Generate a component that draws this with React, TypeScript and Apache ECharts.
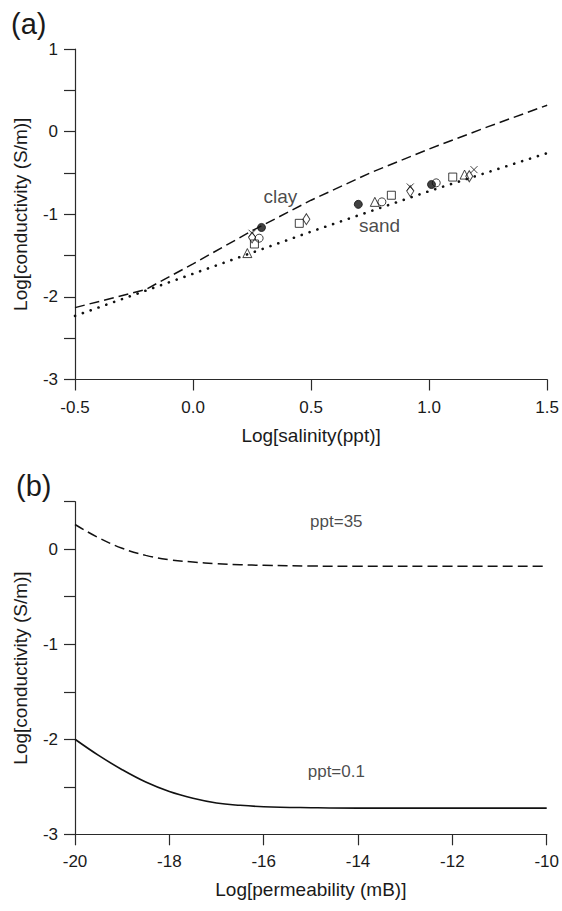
import React, { useEffect, useRef } from "react";
import * as echarts from "echarts";

// Panel (a): Log[salinity] vs Log[conductivity]
const clayX = [-0.5, -0.2, 0.0, 0.25, 0.5, 0.75, 1.0, 1.25, 1.5];
const clayY = [-2.13, -1.91, -1.6, -1.2, -0.83, -0.5, -0.21, 0.06, 0.32];
const sandX = [-0.5, 0.0, 0.5, 1.0, 1.5];
const sandY = [-2.23, -1.72, -1.21, -0.72, -0.26];

const filledCircleX = [0.29, 0.7, 1.01];
const filledCircleY = [-1.16, -0.88, -0.64];
const openCircleX = [0.28, 0.8, 1.03];
const openCircleY = [-1.29, -0.85, -0.62];
const triangleX = [0.23, 0.77, 1.15];
const triangleY = [-1.47, -0.85, -0.52];
const squareX = [0.26, 0.45, 0.84, 1.1];
const squareY = [-1.36, -1.11, -0.77, -0.55];
const diamondX = [0.25, 0.48, 0.92, 1.17];
const diamondY = [-1.28, -1.06, -0.72, -0.54];
const crossX = [0.25, 0.92, 1.19];
const crossY = [-1.23, -0.67, -0.46];

const labelsA = ["clay", "sand"];
const labelsAX = [0.37, 0.79];
const labelsAY = [-0.78, -1.14];

// Panel (b): Log[permeability] vs Log[conductivity]
const ppt35X = [-20, -19.5, -19, -18.5, -18, -17.5, -17, -16.5, -16, -15, -14, -12, -10];
const ppt35Y = [0.26, 0.12, 0.01, -0.065, -0.11, -0.135, -0.152, -0.163, -0.17, -0.177, -0.18, -0.18, -0.18];
const ppt01X = [-20, -19.5, -19, -18.5, -18, -17.5, -17, -16.5, -16, -15, -14, -12, -10];
const ppt01Y = [-2.0, -2.17, -2.32, -2.45, -2.55, -2.62, -2.67, -2.695, -2.71, -2.72, -2.725, -2.725, -2.725];

const labelsB = ["ppt=35", "ppt=0.1"];
const labelsBX = [-14.46, -14.46];
const labelsBY = [0.29, -2.34];

const FONT = "Liberation Sans, Arial, Helvetica, sans-serif";
const TXT = "#1a1a1a";
const AX = "#2a2a2a";

const zip = (xs: number[], ys: number[]) => xs.map((x, i) => [x, ys[i]]);

function axisCommon() {
  return {
    axisLine: { show: true, onZero: false, lineStyle: { color: AX, width: 1.2 } },
    axisTick: { show: true, length: 11, lineStyle: { color: AX, width: 1.2 } },
    splitLine: { show: false },
    nameTextStyle: { fontSize: 19, color: TXT, fontFamily: FONT },
  };
}

function scatterSeries(name: string, xs: number[], ys: number[], symbol: string, size: any, filled: boolean) {
  return {
    name,
    type: "scatter",
    xAxisIndex: 0,
    yAxisIndex: 0,
    symbol,
    symbolSize: size,
    data: zip(xs, ys),
    itemStyle: {
      color: filled ? "#111" : "rgba(0,0,0,0)",
      borderColor: "#111",
      borderWidth: 1,
    },
    z: 5,
  };
}

export default function App() {
  const ref = useRef<HTMLDivElement>(null);
  useEffect(() => {
    const chart = echarts.init(ref.current!, null, { renderer: "svg" });
    const intLabel = (v: number) => (Math.abs(v - Math.round(v)) < 1e-9 ? String(Math.round(v)) : "");
    const option: any = {
      animation: false,
      backgroundColor: "#fff",
      textStyle: { fontFamily: FONT },
      grid: [
        { left: 75, top: 49, width: 473, height: 330.5 },
        { left: 75, top: 501.7, width: 475, height: 332.6 },
      ],
      xAxis: [
        {
          ...axisCommon(),
          type: "value",
          gridIndex: 0,
          min: -0.5,
          max: 1.5,
          interval: 0.5,
          axisLabel: { formatter: (v: number) => v.toFixed(1), margin: 19, fontSize: 17, color: TXT, fontFamily: FONT },
          name: "Log[salinity(ppt)]",
          nameLocation: "middle",
          nameGap: 46,
        },
        {
          ...axisCommon(),
          type: "value",
          gridIndex: 1,
          min: -20,
          max: -10,
          interval: 2,
          axisLabel: { margin: 19, fontSize: 17, color: TXT, fontFamily: FONT },
          name: "Log[permeability (mB)]",
          nameLocation: "middle",
          nameGap: 46,
        },
      ],
      yAxis: [
        {
          ...axisCommon(),
          type: "value",
          gridIndex: 0,
          min: -3,
          max: 1,
          interval: 0.5,
          axisLabel: { formatter: intLabel, margin: 17, fontSize: 17, color: TXT, fontFamily: FONT },
          name: "Log[conductivity (S/m)]",
          nameLocation: "middle",
          nameGap: 45,
        },
        {
          ...axisCommon(),
          type: "value",
          gridIndex: 1,
          min: -3,
          max: 0.5,
          interval: 0.5,
          axisLabel: { formatter: intLabel, margin: 17, fontSize: 17, color: TXT, fontFamily: FONT },
          name: "Log[conductivity (S/m)]",
          nameLocation: "middle",
          nameGap: 45,
        },
      ],
      graphic: [
        { type: "text", left: 11, top: 9, style: { text: "(a)", fontSize: 29, fill: TXT, fontFamily: FONT } },
        { type: "text", left: 16, top: 471, style: { text: "(b)", fontSize: 29, fill: TXT, fontFamily: FONT } },
      ],
      series: [
        {
          name: "clay",
          type: "line",
          xAxisIndex: 0,
          yAxisIndex: 0,
          showSymbol: false,
          data: zip(clayX, clayY),
          lineStyle: { color: "#111", width: 1.5, type: [10, 5] },
        },
        {
          name: "sand",
          type: "line",
          xAxisIndex: 0,
          yAxisIndex: 0,
          showSymbol: false,
          data: zip(sandX, sandY),
          lineStyle: { color: "#111", width: 2.6, type: [0.1, 8.2], cap: "round" },
        },
        scatterSeries("filled", filledCircleX, filledCircleY, "circle", 8, true),
        scatterSeries("circle", openCircleX, openCircleY, "circle", 8, false),
        scatterSeries("triangle", triangleX, triangleY, "triangle", 9, false),
        scatterSeries("square", squareX, squareY, "rect", 8, false),
        scatterSeries("diamond", diamondX, diamondY, "diamond", [7, 11], false),
        scatterSeries("cross", crossX, crossY, "path://M0,0L10,10M10,0L0,10", 7, false),
        {
          name: "labelsA",
          type: "scatter",
          xAxisIndex: 0,
          yAxisIndex: 0,
          symbolSize: 0,
          silent: true,
          data: labelsA.map((n, i) => ({ name: n, value: [labelsAX[i], labelsAY[i]] })),
          label: { show: true, position: "inside", formatter: "{b}", fontSize: 19, color: TXT, fontFamily: FONT },
        },
        {
          name: "ppt=35",
          type: "line",
          xAxisIndex: 1,
          yAxisIndex: 1,
          showSymbol: false,
          smooth: 0.4,
          data: zip(ppt35X, ppt35Y),
          lineStyle: { color: "#111", width: 1.5, type: [10, 5] },
        },
        {
          name: "ppt=0.1",
          type: "line",
          xAxisIndex: 1,
          yAxisIndex: 1,
          showSymbol: false,
          smooth: 0.4,
          data: zip(ppt01X, ppt01Y),
          lineStyle: { color: "#111", width: 1.6, type: "solid" },
        },
        {
          name: "labelsB",
          type: "scatter",
          xAxisIndex: 1,
          yAxisIndex: 1,
          symbolSize: 0,
          silent: true,
          data: labelsB.map((n, i) => ({ name: n, value: [labelsBX[i], labelsBY[i]] })),
          label: { show: true, position: "inside", formatter: "{b}", fontSize: 17, color: TXT, fontFamily: FONT },
        },
      ],
    };
    chart.setOption(option);
    return () => chart.dispose();
  }, []);
  return <div ref={ref} style={{ position: "absolute", left: 0, top: 0, width: 562, height: 911 }} />;
}
